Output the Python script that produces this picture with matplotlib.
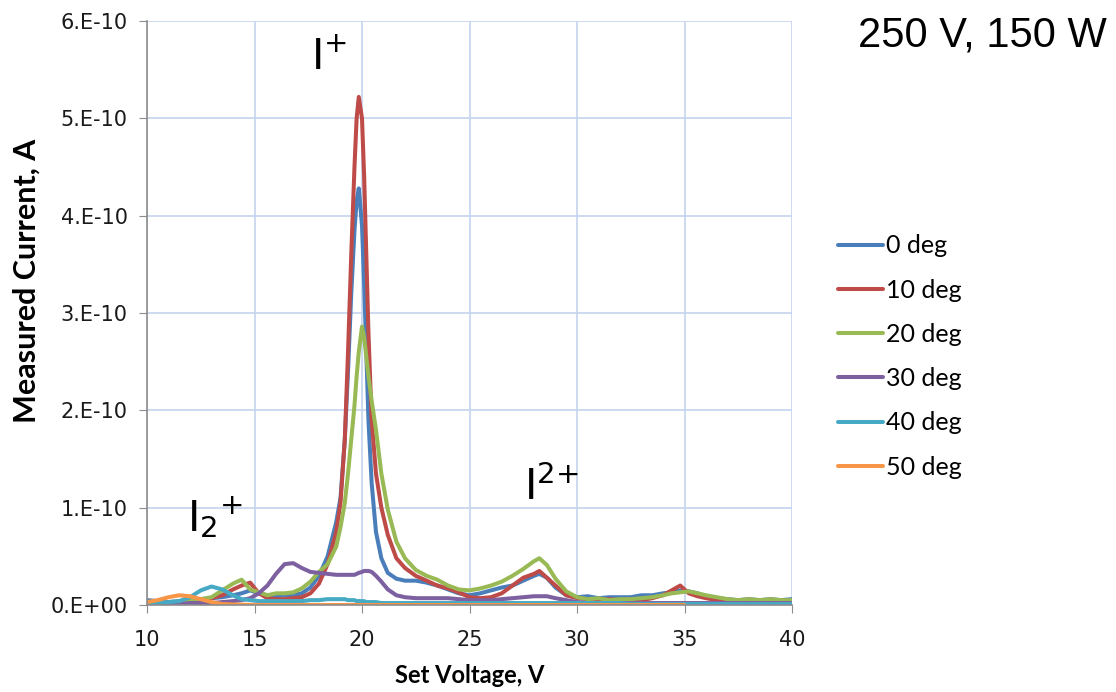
import numpy as np
import matplotlib
matplotlib.use("Agg")
import matplotlib.pyplot as plt

# Set voltage grid (V) shared by the 0-40 deg scans
volts = [10, 10.5, 11, 11.5, 12, 12.5, 13, 13.5, 14,
         14.4, 14.8, 15.2, 15.6, 16, 16.4, 16.8, 17.2, 17.6, 18,
         18.4, 18.8, 19, 19.2, 19.35, 19.5, 19.65, 19.75, 19.85, 20,
         20.1, 20.2, 20.3, 20.45, 20.65, 20.9, 21.2, 21.6, 22, 22.5,
         23, 23.5, 24, 24.5, 25, 25.5, 26, 26.5, 27, 27.5,
         28, 28.25, 28.6, 29, 29.5, 30, 30.5, 31, 31.5, 32,
         32.5, 33, 33.5, 34, 34.4, 34.8, 35.2, 35.6, 36, 36.5,
         37, 37.5, 38, 38.5, 39, 39.5, 40]

# measured current in units of 1e-10 A
cur_0 = [0.05, 0.04, 0.03, 0.04, 0.05, 0.06, 0.07, 0.08, 0.1,
         0.12, 0.15, 0.12, 0.1, 0.09, 0.1, 0.1, 0.12, 0.18, 0.3,
         0.5, 0.85, 1.1, 1.7, 2.4, 3.2, 3.85, 4.15, 4.28, 3.9,
         3.3, 2.6, 1.9, 1.25, 0.75, 0.48, 0.33, 0.27, 0.25, 0.25,
         0.23, 0.2, 0.16, 0.12, 0.1, 0.12, 0.15, 0.18, 0.2, 0.25,
         0.3, 0.32, 0.28, 0.18, 0.1, 0.08, 0.09, 0.07, 0.08, 0.08,
         0.08, 0.1, 0.1, 0.12, 0.13, 0.15, 0.14, 0.12, 0.09, 0.07,
         0.06, 0.05, 0.06, 0.05, 0.06, 0.05, 0.06]
cur_10 = [0.03, 0.02, 0.02, 0.03, 0.04, 0.05, 0.07, 0.1, 0.16,
          0.2, 0.23, 0.12, 0.07, 0.06, 0.06, 0.07, 0.08, 0.12, 0.22,
          0.42, 0.75, 1.05, 1.7, 2.6, 3.6, 4.5, 5.0, 5.22, 5.0,
          4.4, 3.6, 2.8, 1.9, 1.35, 1.0, 0.72, 0.48, 0.38, 0.3,
          0.25, 0.2, 0.17, 0.13, 0.08, 0.07, 0.08, 0.12, 0.2, 0.28,
          0.32, 0.35, 0.28, 0.2, 0.1, 0.07, 0.06, 0.05, 0.06, 0.05,
          0.06, 0.05, 0.07, 0.1, 0.15, 0.2, 0.12, 0.09, 0.07, 0.05,
          0.04, 0.05, 0.04, 0.05, 0.04, 0.05, 0.04]
cur_20 = [0.02, 0.02, 0.02, 0.03, 0.04, 0.06, 0.08, 0.15, 0.22,
          0.26, 0.16, 0.13, 0.1, 0.12, 0.12, 0.13, 0.17, 0.24, 0.34,
          0.42, 0.6, 0.8, 1.05, 1.35, 1.7, 2.05, 2.35, 2.6, 2.86,
          2.75, 2.55, 2.35, 2.1, 1.8, 1.35, 0.98, 0.65, 0.48, 0.36,
          0.3, 0.26, 0.2, 0.16, 0.15, 0.17, 0.2, 0.24, 0.3, 0.37,
          0.45, 0.48, 0.41, 0.27, 0.14, 0.08, 0.06, 0.07, 0.05, 0.06,
          0.06, 0.07, 0.08, 0.1, 0.12, 0.13, 0.14, 0.12, 0.1, 0.08,
          0.06, 0.05, 0.06, 0.05, 0.06, 0.05, 0.05]
cur_30 = [0.0, 0.0, 0.01, 0.01, 0.02, 0.02, 0.02, 0.03, 0.04,
          0.05, 0.07, 0.12, 0.2, 0.32, 0.42, 0.43, 0.38, 0.34, 0.33,
          0.32, 0.31, 0.31, 0.31, 0.31, 0.31, 0.31, 0.32, 0.33, 0.34,
          0.35, 0.35, 0.35, 0.34, 0.3, 0.24, 0.16, 0.1, 0.08, 0.07,
          0.07, 0.07, 0.07, 0.06, 0.05, 0.05, 0.05, 0.06, 0.07, 0.08,
          0.09, 0.09, 0.09, 0.07, 0.05, 0.03, 0.02, 0.02, 0.02, 0.02,
          0.02, 0.02, 0.02, 0.02, 0.02, 0.02, 0.02, 0.02, 0.02, 0.02,
          0.02, 0.02, 0.02, 0.02, 0.02, 0.02, 0.02]
cur_40 = [0.02, 0.02, 0.03, 0.04, 0.08, 0.15, 0.19, 0.16, 0.1,
          0.06, 0.05, 0.04, 0.04, 0.04, 0.04, 0.04, 0.04, 0.05, 0.05,
          0.06, 0.06, 0.06, 0.06, 0.05, 0.05, 0.05, 0.04, 0.04, 0.04,
          0.04, 0.03, 0.03, 0.03, 0.03, 0.02, 0.02, 0.02, 0.02, 0.02,
          0.02, 0.02, 0.02, 0.02, 0.02, 0.02, 0.02, 0.02, 0.02, 0.02,
          0.02, 0.02, 0.02, 0.02, 0.02, 0.02, 0.02, 0.02, 0.02, 0.02,
          0.01, 0.01, 0.01, 0.01, 0.01, 0.01, 0.01, 0.01, 0.01, 0.01,
          0.01, 0.01, 0.01, 0.01, 0.01, 0.01, 0.01]
# 50 deg scan only goes to 35 V
volts_50 = [10, 10.5, 11, 11.5, 12, 12.5, 13, 13.5, 14, 15, 20, 25, 30, 35]
cur_50 = [0.03, 0.05, 0.08, 0.1, 0.09, 0.06, 0.03, 0.01, 0.005, 0.0, 0.0, 0.0, 0.0, 0.0]

labels = ["0 deg", "10 deg", "20 deg", "30 deg", "40 deg", "50 deg"]
colors = ["#4a7ebb", "#be4b48", "#98b954", "#7d60a0", "#46aac5", "#f79646"]

y_ticks = [0, 1, 2, 3, 4, 5, 6]
y_ticklabels = ["0.E+00", "1.E-10", "2.E-10", "3.E-10", "4.E-10", "5.E-10", "6.E-10"]
x_ticks = [10, 15, 20, 25, 30, 35, 40]

plt.rcParams["mathtext.fontset"] = "custom"
plt.rcParams["mathtext.rm"] = "Liberation Sans"

fig = plt.figure(figsize=(11.16, 6.92), dpi=100)
ax = fig.add_axes([147/1116, 1 - 605/692, (792-147)/1116, (605-21)/692])

series = [(volts, cur_0), (volts, cur_10), (volts, cur_20),
          (volts, cur_30), (volts, cur_40), (volts_50, cur_50)]
for (xv, yv), lab, col in zip(series, labels, colors):
    ax.plot(xv, np.array(yv) * 1e-10, color=col, lw=2.9, label=lab,
            solid_joinstyle="round", solid_capstyle="round")

ax.set_xlim(10, 40)
ax.set_ylim(0, 6e-10)
ax.set_xticks(x_ticks)
ax.set_yticks(np.array(y_ticks) * 1e-10)
ax.set_yticklabels(y_ticklabels)
ax.grid(True, color="#c5d3ee", lw=1.2)
ax.set_axisbelow(True)
for s in ["top", "right"]:
    ax.spines[s].set_visible(False)
for s in ["left", "bottom"]:
    ax.spines[s].set_color("#8c8c8c")
    ax.spines[s].set_linewidth(1.2)
ax.tick_params(direction="out", length=6, color="#8c8c8c", labelsize=15,
               labelcolor="#1a1a1a", pad=8)
ax.tick_params(axis="x", pad=12)
for t in ax.get_xticklabels() + ax.get_yticklabels():
    t.set_fontfamily("DejaVu Sans")

ax.set_xlabel("Set Voltage, V", fontsize=17, fontweight="bold", family="Lato",
              labelpad=10)
ax.set_ylabel("Measured Current, A", fontsize=22, fontweight="bold", family="Lato")
ax.yaxis.set_label_coords(-0.165, 0.555)

ax.text(18.45, 5.63e-10, r"$\mathregular{I^{+}}$", fontsize=30, ha="center",
        va="center")
ax.text(13.15, 0.9e-10, r"$\mathregular{I_{2}{}^{+}}$", fontsize=30, ha="center",
        va="center")
ax.text(28.8, 1.2e-10, r"$\mathregular{I^{2{+}}}$", fontsize=30, ha="center",
        va="center")

fig.text(858/1116, 1 - 36/692, "250 V, 150 W", fontsize=30,
         family="Liberation Sans", ha="left", va="center")

fig.legend(loc="upper left", bbox_to_anchor=(825/1116, 1 - 222/692),
           frameon=False, prop={"family": "Lato", "size": 18},
           handlelength=1.8, handletextpad=0.15, labelspacing=0.85,
           borderpad=0)

fig.savefig("out.png", dpi=100)
